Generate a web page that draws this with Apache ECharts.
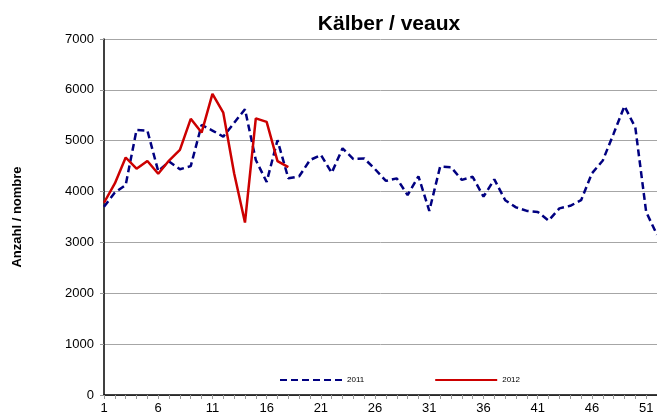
<!DOCTYPE html>
<html>
<head>
<meta charset="utf-8">
<script src="https://cdn.jsdelivr.net/npm/echarts@6/dist/echarts.min.js"></script>
<style>
html,body{margin:0;padding:0;background:#fff;}
#chart{width:657px;height:416px;}
</style>
</head>
<body>
<div id="chart"></div>
<script>
var weeks = ['1','2','3','4','5','6','7','8','9','10','11','12','13','14','15','16','17','18','19','20','21','22','23','24','25','26','27','28','29','30','31','32','33','34','35','36','37','38','39','40','41','42','43','44','45','46','47','48','49','50','51','52'];
var values2011 = [3700,3980,4130,5210,5200,4400,4590,4440,4500,5310,5200,5080,5350,5620,4620,4190,5010,4260,4300,4620,4720,4370,4850,4640,4650,4440,4210,4260,3930,4300,3620,4490,4480,4230,4290,3900,4240,3830,3690,3620,3600,3430,3670,3720,3830,4360,4610,5140,5680,5260,3600,3150];
var values2012 = [3780,4160,4670,4450,4600,4350,4610,4820,5430,5160,5920,5550,4360,3390,5440,5370,4600,4480];
var seriesNames = ['2011','2012'];
var titleText = 'Kälber / veaux';
var yAxisName = 'Anzahl / nombre';

var chart = echarts.init(document.getElementById('chart'), null, {renderer:'canvas'});
chart.setOption({
  animation:false,
  backgroundColor:'#ffffff',
  textStyle:{fontFamily:'Liberation Sans, Arial, sans-serif'},
  title:{
    text:titleText,
    left:384, top:9, textAlign:'center',
    textStyle:{fontSize:21,fontWeight:'bold',color:'#000',fontFamily:'Liberation Sans, Arial, sans-serif'}
  },
  legend:{
    data:seriesNames,
    left:274, top:371,
    itemWidth:62, itemHeight:10, itemGap:70,
    itemStyle:{opacity:0},
    textStyle:{fontSize:8,color:'#000',fontFamily:'Liberation Sans, Arial, sans-serif'}
  },
  grid:{left:104, right:0, top:39, bottom:21, containLabel:false},
  xAxis:{
    type:'category',
    data:weeks,
    boundaryGap:false,
    axisLine:{show:true,lineStyle:{color:'#000',width:1.5}},
    axisTick:{show:true,interval:0,length:4,lineStyle:{color:'#999'}},
    axisLabel:{
      interval:function(i){return i%5===0;},
      fontSize:13, color:'#000', margin:7,
      fontFamily:'Liberation Sans, Arial, sans-serif'
    },
    splitLine:{show:false}
  },
  yAxis:{
    type:'value',
    min:0, max:7000, interval:1000,
    name:yAxisName,
    nameLocation:'middle',
    nameGap:80,
    nameRotate:90,
    nameTextStyle:{fontSize:13,fontWeight:'bold',color:'#000',fontFamily:'Liberation Sans, Arial, sans-serif'},
    axisLine:{show:true,lineStyle:{color:'#000',width:1.5}},
    axisTick:{show:true,length:4,lineStyle:{color:'#999'}},
    axisLabel:{fontSize:13,color:'#000',margin:10,fontFamily:'Liberation Sans, Arial, sans-serif',
      formatter:function(v){return String(v);}},
    splitLine:{show:true,lineStyle:{color:'#a6a6a6',width:1}}
  },
  series:[
    {
      name:seriesNames[0], type:'line', data:values2011,
      symbol:'none', showSymbol:false,
      lineStyle:{color:'#000080',width:2.5,type:[7,4]},
      itemStyle:{color:'#000080'}
    },
    {
      name:seriesNames[1], type:'line', data:values2012,
      symbol:'none', showSymbol:false,
      lineStyle:{color:'#cc0000',width:2.5},
      itemStyle:{color:'#cc0000'}
    }
  ]
});
</script>
</body>
</html>
